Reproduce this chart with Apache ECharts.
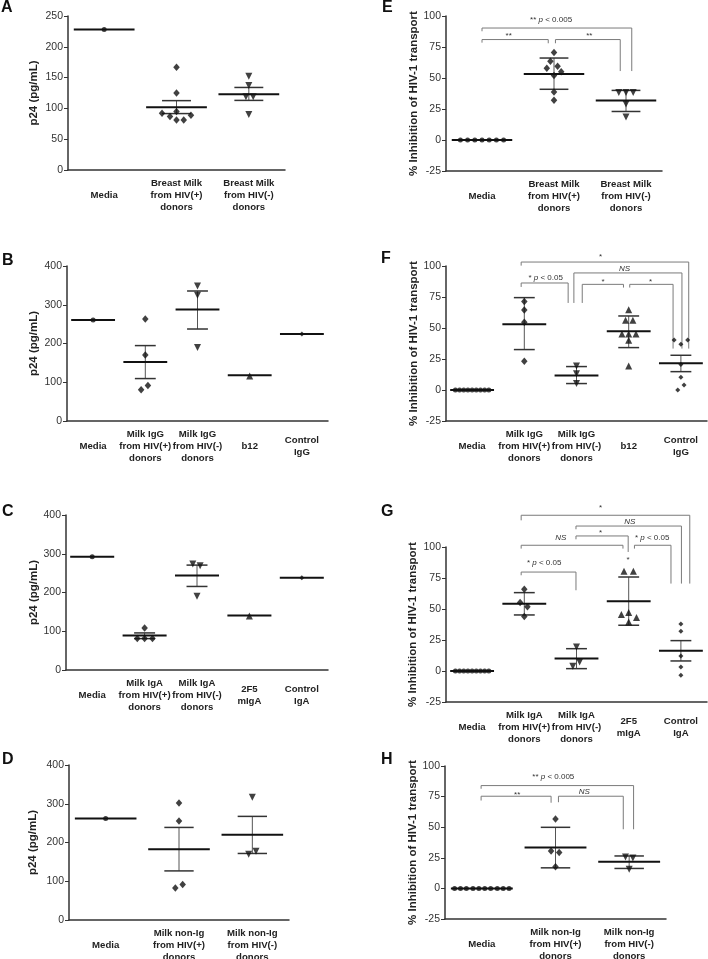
<!DOCTYPE html>
<html><head><meta charset="utf-8">
<script src="https://cdn.jsdelivr.net/npm/echarts@6/dist/echarts.min.js"></script>
<style>html,body{margin:0;padding:0;background:#fff}#c{width:708px;height:959px}</style>
</head><body><div id="c"></div>
<script>
// ===== DATA =====  points: [group, horizontal jitter (category units), value]
// Panel A
const catsA = ['Media','Breast Milk\nfrom HIV(+)\ndonors','Breast Milk\nfrom HIV(-)\ndonors'];
const markersA = ['c','d','v'];
const pointsA = [[1,0,228],[2,0,167],[2,0,125],[2,0,95],[2,-0.2,92],[2,-0.09,87],[2,0.2,89],[2,0,81],[2,0.1,81],
  [3,0,152],[3,0,137],[3,-0.04,119],[3,0.06,119],[3,0,90]];
const meansA = [228,102,123];
const errLoA = [null,91.6,113];
const errHiA = [null,112.6,134];
const yTicksA = [0,250,50];
// Panel B
const catsB = ['Media','Milk IgG\nfrom HIV(+)\ndonors','Milk IgG\nfrom HIV(-)\ndonors','b12','Control\nIgG'];
const markersB = ['c','d','v','^','s'];
const pointsB = [[1,0,260.6],[2,0,263],[2,0,170.3],[2,0.05,91.6],[2,-0.08,80.4],[3,0,348.4],[3,0,324.4],[3,0,189.4],[4,0,116.1],[5,0,224.5]];
const meansB = [260.6,152,287.5,117.9,224.5];
const errLoB = [null,109.5,237.4,null,null];
const errHiB = [null,194.6,335.5,null,null];
// Panel C
const catsC = ['Media','Milk IgA\nfrom HIV(+)\ndonors','Milk IgA\nfrom HIV(-)\ndonors','2F5\nmIgA','Control\nIgA'];
const markersC = ['c','d','v','^','s'];
const pointsC = [[1,0,292.2],[2,0,108.6],[2,-0.14,81],[2,0,81],[2,0.15,81],[3,-0.08,273.3],[3,0.06,268.8],[3,0,190.6],[4,0,139.6],[5,0,237.9]];
const meansC = [292.2,89,244,140.6,237.9];
const errLoC = [null,81,215.6,null,null];
const errHiC = [null,95.7,270.7,null,null];
// Panel D
const catsD = ['Media','Milk non-Ig\nfrom HIV(+)\ndonors','Milk non-Ig\nfrom HIV(-)\ndonors'];
const markersD = ['c','d','v'];
const pointsD = [[1,0,262],[2,0,301.8],[2,0,255.2],[2,0.05,91.5],[2,-0.05,82.8],[3,0,316.5],[3,-0.05,170],[3,0.05,177.7]];
const meansD = [262,182.8,219.8];
const errLoD = [null,126.7,171.7];
const errHiD = [null,238.9,267.4];
const yTicksP24 = [0,400,100];
// Panel E
const catsE = ['Media','Breast Milk\nfrom HIV(+)\ndonors','Breast Milk\nfrom HIV(-)\ndonors'];
const markersE = ['c','d','v'];
const pointsE = [[1,-0.3,0],[1,-0.2,0],[1,-0.1,0],[1,0,0],[1,0.1,0],[1,0.2,0],[1,0.3,0],
  [2,0,70.5],[2,-0.05,63.5],[2,0.05,59.4],[2,-0.1,57.8],[2,0.1,55.1],[2,0,52],[2,0,38.7],[2,0,32],
  [3,-0.1,38.4],[3,0,38.4],[3,0.1,38.4],[3,0,29],[3,0,18.5]];
const meansE = [0,53.2,31.8];
const errLoE = [null,40.9,23];
const errHiE = [null,66.1,40];
// Panel F
const catsF = ['Media','Milk IgG\nfrom HIV(+)\ndonors','Milk IgG\nfrom HIV(-)\ndonors','b12','Control\nIgG'];
const markersF = ['c','d','v','^','s'];
const pointsF = [[1,-0.32,0],[1,-0.24,0],[1,-0.16,0],[1,-0.08,0],[1,0,0],[1,0.08,0],[1,0.16,0],[1,0.24,0],[1,0.32,0],
  [2,0,71.3],[2,0,64.5],[2,0,54.6],[2,0,23.1],
  [3,0,19.4],[3,0,13.2],[3,0,5.2],
  [4,0,64.8],[4,-0.06,56.2],[4,0.08,56.2],[4,-0.13,45.2],[4,0,45.2],[4,0.14,45.2],[4,0,40.1],[4,0,19.4],
  [5,-0.13,40.3],[5,0.13,40.3],[5,0,36.9],[5,0,20.5],[5,0,10.2],[5,0.06,4],[5,-0.06,0]];
const meansF = [0,53,11.6,47.3,21.5];
const errLoF = [null,32.6,5.2,34.2,14.8];
const errHiF = [null,74.5,18.9,59.7,28];
// Panel G
const catsG = ['Media','Milk IgA\nfrom HIV(+)\ndonors','Milk IgA\nfrom HIV(-)\ndonors','2F5\nmIgA','Control\nIgA'];
const markersG = ['c','d','v','^','s'];
const pointsG = [[1,-0.32,0],[1,-0.24,0],[1,-0.16,0],[1,-0.08,0],[1,0,0],[1,0.08,0],[1,0.16,0],[1,0.24,0],[1,0.32,0],
  [2,0,65.9],[2,-0.08,55.2],[2,0.06,51.9],[2,0,43.9],
  [3,0,19.4],[3,0.06,7.3],[3,-0.07,3.8],
  [4,-0.09,80.4],[4,0.09,80.4],[4,0,47.1],[4,-0.14,45.5],[4,0.15,43.1],[4,0,39.5],
  [5,0,37.9],[5,0,32],[5,0,12.1],[5,0,3.2],[5,0,-3.5]];
const meansG = [0,54.3,10,56.2,16.4];
const errLoG = [null,45.2,1.9,36.9,8.1];
const errHiG = [null,63.2,18,75.8,24.5];
// Panel H
const catsH = ['Media','Milk non-Ig\nfrom HIV(+)\ndonors','Milk non-Ig\nfrom HIV(-)\ndonors'];
const markersH = ['c','d','v'];
const pointsH = [[1,-0.37,0],[1,-0.29,0],[1,-0.21,0],[1,-0.12,0],[1,-0.04,0],[1,0.04,0],[1,0.12,0],[1,0.21,0],[1,0.29,0],[1,0.37,0],
  [2,0,56.6],[2,-0.06,30.6],[2,0.05,29.3],[2,0,17.6],
  [3,-0.05,25.7],[3,0.05,24.9],[3,0,15.7]];
const meansH = [0,33.4,21.7];
const errLoH = [null,16.8,16.3];
const errHiH = [null,49.9,26.5];
const yTicksInh = [-25,100,25];

// significance brackets: [x1, x2, yBar, yLeftEnd, yRightEnd, labelX, labelY, label]
const bracketsE = [
  [1.0,3.08,90.3,87.7,55.6,1.96,97.3,'** p < 0.005'],
  [1.0,1.92,81,78.5,78,1.37,84.2,'**'],
  [2.02,2.92,81,78,55.6,2.49,84.2,'**']
];
const bracketsF = [
  [1.94,5.15,103.2,100.3,33.4,3.46,107.6,'*'],
  [2.95,5.02,94.4,70.2,33.4,3.92,97.9,'NS'],
  [1.94,2.84,86.3,83.1,70.2,2.41,90.3,'* p < 0.05'],
  [3.11,3.9,85.2,70.2,82.6,3.51,87.4,'*'],
  [4.02,4.85,85.2,82.6,33.4,4.42,87.4,'*']
];
const bracketsG = [
  [1.94,5.17,125.6,121.5,70.5,3.46,132,'*'],
  [2.99,5.01,116.9,114.3,70.5,4.02,120.7,'NS'],
  [1.94,3.89,101.4,98.7,98.7,2.7,107.3,'NS'],
  [2.99,3.99,108.9,106.2,96,3.46,111.3,'*'],
  [4.11,4.81,101.4,98.7,70.5,4.45,107.3,'* p < 0.05'],
  [1.94,2.99,79.8,77.2,65.1,2.38,87.4,'* p < 0.05'],
  [3.99,3.99,89.5,89.5,89.5,3.99,89.5,'*']
];
const bracketsH = [
  [0.99,3.06,84,81.4,48.3,1.97,91.4,'** p < 0.005'],
  [0.99,1.94,75.3,71.8,70,1.48,76.2,'**'],
  [2.04,2.92,75.3,70.4,48.3,2.39,78.6,'NS']
];

const nameP24 = 'p24 (pg/mL)';
const nameInh = '% Inhibition of HIV-1 transport';

// ===== LAYOUT / STYLE =====
const FONT = '"Liberation Sans", Arial, Helvetica, sans-serif';
const MARK = {
  c: {symbol:'circle', symbolSize:5, symbolRotate:0},
  d: {symbol:'diamond', symbolSize:[6.5,7.5], symbolRotate:0},
  s: {symbol:'diamond', symbolSize:5, symbolRotate:0},
  v: {symbol:'triangle', symbolSize:7, symbolRotate:180},
  '^': {symbol:'triangle', symbolSize:7, symbolRotate:0}
};
const panels = [
  {L:'A', lx:1, ly:7.5, grid:{left:68,top:16,width:217,height:154}, cats:catsA, mk:markersA, pts:pointsA, means:meansA, lo:errLoA, hi:errHiA, y:yTicksA, br:[], name:nameP24, gap:28, cap:0.2},
  {L:'E', lx:382, ly:7.5, grid:{left:446,top:16,width:216,height:155}, cats:catsE, mk:markersE, pts:pointsE, means:meansE, lo:errLoE, hi:errHiE, y:yTicksInh, br:bracketsE, name:nameInh, gap:25, cap:0.2},
  {L:'B', lx:2, ly:260.8, grid:{left:67,top:266,width:261,height:155}, cats:catsB, mk:markersB, pts:pointsB, means:meansB, lo:errLoB, hi:errHiB, y:yTicksP24, br:[], name:nameP24, gap:27, cap:0.2},
  {L:'F', lx:381, ly:258.5, grid:{left:446,top:266,width:261,height:155}, cats:catsF, mk:markersF, pts:pointsF, means:meansF, lo:errLoF, hi:errHiF, y:yTicksInh, br:bracketsF, name:nameInh, gap:25, cap:0.2},
  {L:'C', lx:2, ly:511.7, grid:{left:66,top:515,width:262,height:155}, cats:catsC, mk:markersC, pts:pointsC, means:meansC, lo:errLoC, hi:errHiC, y:yTicksP24, br:[], name:nameP24, gap:26, cap:0.2},
  {L:'G', lx:381, ly:511.7, grid:{left:446,top:547,width:261,height:155}, cats:catsG, mk:markersG, pts:pointsG, means:meansG, lo:errLoG, hi:errHiG, y:yTicksInh, br:bracketsG, name:nameInh, gap:27, cap:0.2},
  {L:'D', lx:2, ly:759.7, grid:{left:69,top:765,width:220,height:155}, cats:catsD, mk:markersD, pts:pointsD, means:meansD, lo:errLoD, hi:errHiD, y:yTicksP24, br:[], name:nameP24, gap:30, cap:0.2},
  {L:'H', lx:381, ly:759.7, grid:{left:445,top:766,width:221,height:153}, cats:catsH, mk:markersH, pts:pointsH, means:meansH, lo:errLoH, hi:errHiH, y:yTicksInh, br:bracketsH, name:nameInh, gap:25, cap:0.2}
];

function sigText(s){
  if (s === 'NS') return '{i|NS}';
  return s.replace(' p ', ' {i|p} ');
}

const option = {animation:false, backgroundColor:'#fff', grid:[], xAxis:[], yAxis:[], series:[], graphic:[]};
panels.forEach((p, i) => {
  option.grid.push(Object.assign({outerBoundsMode:'none', containLabel:false}, p.grid));
  option.xAxis.push({
    type:'value', gridIndex:i, min:0.5, max:p.cats.length+0.5, interval:0.5,
    axisLine:{show:true, onZero:false, lineStyle:{color:'#333', width:1.5}},
    axisTick:{show:false}, splitLine:{show:false},
    axisLabel:{formatter:v => Number.isInteger(v) ? p.cats[v-1] : '', margin:25, verticalAlign:'middle', align:'center',
      fontFamily:FONT, fontWeight:'bold', fontSize:9.6, lineHeight:12, color:'#222'}
  });
  option.yAxis.push({
    type:'value', gridIndex:i, min:p.y[0], max:p.y[1], interval:p.y[2],
    name:p.name, nameLocation:'middle', nameRotate:90, nameGap:p.gap,
    nameTextStyle:{fontFamily:FONT, fontWeight:'bold', fontSize:11.5, color:'#222'},
    axisLine:{show:true, lineStyle:{color:'#333', width:1.5}},
    axisTick:{show:true, length:4, lineStyle:{color:'#333', width:1}},
    axisLabel:{fontFamily:FONT, fontSize:10.5, color:'#333', margin:5},
    splitLine:{show:false}
  });
  // mean + error bars
  option.series.push({
    type:'custom', xAxisIndex:i, yAxisIndex:i, clip:false, z:2, silent:true,
    data:p.means.map((m, g) => [g+1, m, p.lo[g] == null ? m : p.lo[g], p.hi[g] == null ? m : p.hi[g]]),
    renderItem:(params, api) => {
      const g = api.value(0), m = api.value(1), lo = api.value(2), hi = api.value(3);
      const ch = [];
      if (hi > lo) {
        const a = api.coord([g, lo]), b = api.coord([g, hi]);
        ch.push({type:'line', shape:{x1:a[0], y1:a[1], x2:b[0], y2:b[1]}, style:{stroke:'#555', lineWidth:1}});
        [lo, hi].forEach(v => {
          const l = api.coord([g - p.cap, v]), r = api.coord([g + p.cap, v]);
          ch.push({type:'line', shape:{x1:l[0], y1:l[1], x2:r[0], y2:r[1]}, style:{stroke:'#333', lineWidth:1.5}});
        });
      }
      const l = api.coord([g - 0.42, m]), r = api.coord([g + 0.42, m]);
      ch.push({type:'line', shape:{x1:l[0], y1:l[1], x2:r[0], y2:r[1]}, style:{stroke:'#111', lineWidth:2}});
      return {type:'group', children:ch};
    }
  });
  // points
  option.series.push({
    type:'scatter', xAxisIndex:i, yAxisIndex:i, z:5, silent:true, itemStyle:{color:'#111'},
    data:p.pts.map(q => Object.assign({value:[q[0] + q[1], q[2]]}, MARK[p.mk[q[0]-1]]))
  });
  // brackets
  if (p.br.length) {
    option.series.push({
      type:'custom', xAxisIndex:i, yAxisIndex:i, clip:false, z:4, silent:true,
      data:p.br.map(b => b.slice(0, 7)),
      renderItem:(params, api) => {
        const x1 = api.value(0), x2 = api.value(1), yb = api.value(2), yl = api.value(3), yr = api.value(4);
        const ch = [];
        if (x1 !== x2) {
          ch.push({type:'polyline', shape:{points:[api.coord([x1, yl]), api.coord([x1, yb]), api.coord([x2, yb]), api.coord([x2, yr])]},
            style:{stroke:'#7a7a7a', lineWidth:1, fill:null}});
        }
        const t = api.coord([api.value(5), api.value(6)]);
        ch.push({type:'text', x:t[0], y:t[1], style:{text:sigText(p.br[params.dataIndex][7]), font:'8px ' + FONT, fill:'#333',
          align:'center', verticalAlign:'middle', rich:{i:{fontStyle:'italic', fontSize:8, fontFamily:FONT, fill:'#333'}}}});
        return {type:'group', children:ch};
      }
    });
  }
  option.graphic.push({type:'text', x:p.lx, y:p.ly, style:{text:p.L, font:'bold 16px ' + FONT, fill:'#111', align:'left', verticalAlign:'middle'}});
});

const chart = echarts.init(document.getElementById('c'), null, {renderer:'canvas'});
chart.setOption(option);
</script>
</body></html>
